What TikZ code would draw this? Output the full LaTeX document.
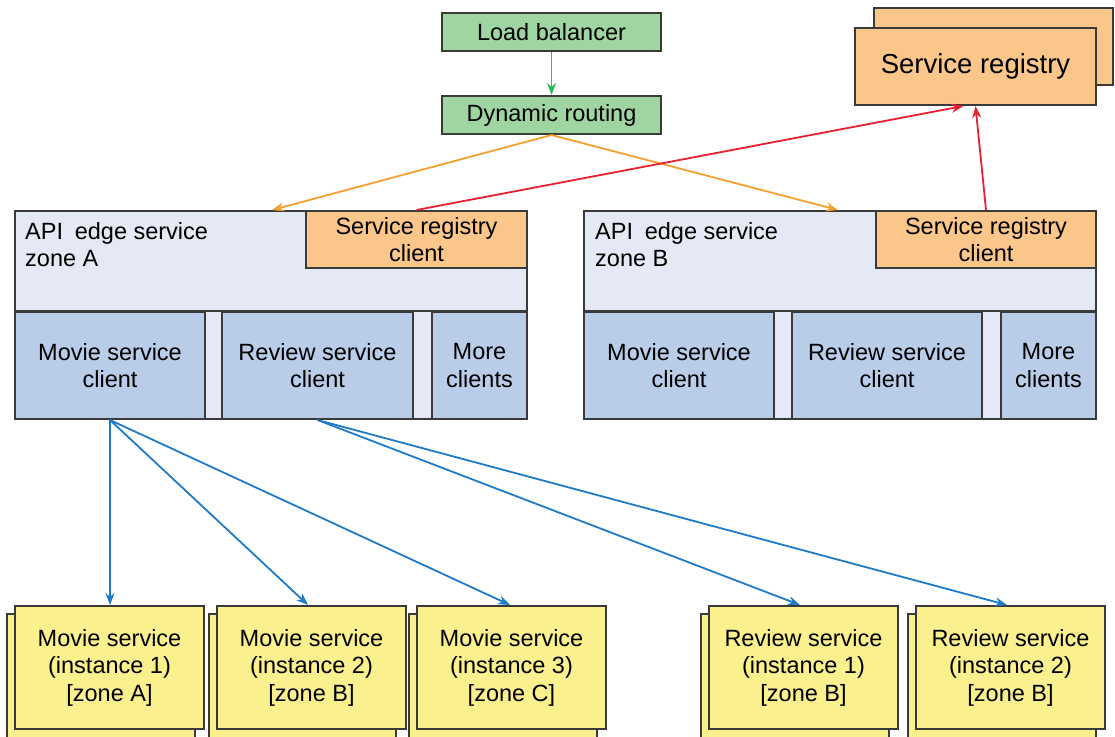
\documentclass[tikz,border=0pt]{standalone}
\usepackage{fontspec}
\setmainfont{Liberation Sans}
\usetikzlibrary{arrows.meta,calc}
\definecolor{gfill}{HTML}{9FD5A0}
\definecolor{garrow}{HTML}{2DB85A}
\definecolor{ofill}{HTML}{FAC68A}
\definecolor{oarrow}{HTML}{F5A030}
\definecolor{rarrow}{HTML}{E8202F}
\definecolor{lblue}{HTML}{E4E9F5}
\definecolor{cblue}{HTML}{B9CCE8}
\definecolor{yfill}{HTML}{FAF08E}
\definecolor{barrow}{HTML}{1E7BC8}
\definecolor{edge}{HTML}{3A3A3A}
\tikzset{
  txt/.style={font=\fontsize{23.5}{27.5}\selectfont},
  bx/.style={draw=edge, line width=2pt, anchor=north west, inner sep=0pt, align=center, txt},
  greenbox/.style={bx, fill=gfill, minimum width=219pt, minimum height=38pt},
  clientbox/.style={bx, fill=cblue, minimum height=107pt},
  yellowbox/.style={bx, fill=yfill, minimum width=189pt, minimum height=123pt},
  yshadow/.style={draw=edge, line width=2pt, fill=yfill},
  regclient/.style={bx, fill=ofill, minimum width=221pt, minimum height=57pt},
  zone/.style={bx, fill=lblue, minimum width=512pt, minimum height=208pt},
  tip/.style={-{Stealth[length=12pt,width=9pt]}, line width=1.8pt},
}
\begin{document}
\begin{tikzpicture}[x=1pt,y=-1pt]
\useasboundingbox (0,0) rectangle (1115,736);
% top
\node[greenbox] (lb) at (441,12) {Load balancer};
\node[greenbox] (dr) at (441,95) {Dynamic routing};
\draw[tip, garrow] (lb.south) -- (dr.north);
% registry
\draw[draw=edge, line width=2pt, fill=ofill] (874,8) rectangle (1113,85);
\node[bx, fill=ofill, minimum width=241pt, minimum height=77pt, font=\fontsize{27.5}{32}\selectfont] (reg) at (854,27) {Service registry};
% zone A
\node[zone] (za) at (14,210) {};
\node[anchor=north west, align=left, inner sep=0pt, txt] (zal) at (25,222) {API\enspace edge service\\zone A};
\node[regclient] (rca) at (305,210) {Service registry\\client};
\draw[edge, line width=2pt] (14,311) -- (526,311);
\node[clientbox, minimum width=190pt] (mca) at (14,311) {Movie service\\client};
\node[clientbox, minimum width=191pt] (rvca) at (221,311) {Review service\\client};
\node[clientbox, minimum width=95pt] (moa) at (431,311) {More\\clients};
% zone B
\node[zone] (zb) at (583,210) {};
\node[anchor=north west, align=left, inner sep=0pt, txt] (zbl) at (595,222) {API\enspace edge service\\zone B};
\node[regclient, minimum width=220pt] (rcb) at (875,210) {Service registry\\client};
\draw[edge, line width=2pt] (583,311) -- (1095,311);
\node[clientbox, minimum width=190pt] (mcb) at (583,311) {Movie service\\client};
\node[clientbox, minimum width=190pt] (rvcb) at (791,311) {Review service\\client};
\node[clientbox, minimum width=95pt] (mob) at (1000,311) {More\\clients};
% bottom instances
\draw[yshadow] (7,614) rectangle (195,742);
\node[yellowbox] (m1) at (14,605) {Movie service\\(instance 1)\\{}[zone A]};
\draw[yshadow] (209,614) rectangle (396,742);
\node[yellowbox] (m2) at (216,605) {Movie service\\(instance 2)\\{}[zone B]};
\draw[yshadow] (409,614) rectangle (597,742);
\node[yellowbox] (m3) at (416,605) {Movie service\\(instance 3)\\{}[zone C]};
\draw[yshadow] (701,614) rectangle (889,742);
\node[yellowbox] (r1) at (708,605) {Review service\\(instance 1)\\{}[zone B]};
\draw[yshadow] (908,614) rectangle (1096,742);
\node[yellowbox] (r2) at (915,605) {Review service\\(instance 2)\\{}[zone B]};
% connectors
\coordinate (za-in) at (272,210);
\coordinate (zb-in) at (838,210);
\draw[tip, oarrow] (dr.south) -- (za-in);
\draw[tip, oarrow] (dr.south) -- (zb-in);
\coordinate (reg-a) at ($(reg.south)+(-12,0)$);
\draw[tip, rarrow] (rca.north) -- (reg-a);
\draw[tip, rarrow] (rcb.north) -- (reg.south);
\draw[tip, barrow] (mca.south) -- (m1.north -| mca.south);
\coordinate (m2in) at (308,605);
\draw[tip, barrow] (mca.south) -- (m2in);
\coordinate (m3in) at (510,605);
\draw[tip, barrow] (mca.south) -- (m3in);
\coordinate (r1in) at (800,605);
\draw[tip, barrow] (rvca.south) -- (r1in);
\coordinate (r2in) at (1007,605);
\draw[tip, barrow] (rvca.south) -- (r2in);
\end{tikzpicture}
\end{document}
